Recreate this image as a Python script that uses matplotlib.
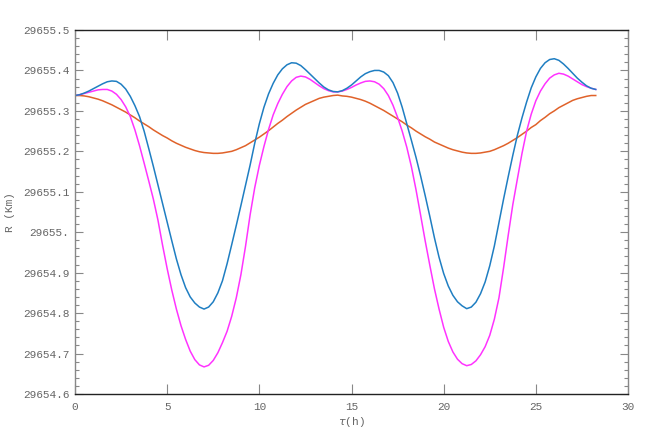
import matplotlib
matplotlib.use("Agg")
import matplotlib.pyplot as plt
from matplotlib.ticker import FixedLocator, FixedFormatter, MultipleLocator

# time samples (hours), every quarter hour
tau = [i * 0.25 for i in range(114)]

# R - 29654 (km), one value per sample above
r_blue = [
    1.338, 1.340, 1.344, 1.349, 1.355, 1.361, 1.367, 1.372, 1.374, 1.373,
    1.366, 1.354, 1.336, 1.313, 1.286, 1.250, 1.207, 1.163, 1.117, 1.071,
    1.025, 0.979, 0.934, 0.895, 0.863, 0.840, 0.825, 0.815, 0.810, 0.815,
    0.828, 0.850, 0.880, 0.922, 0.969, 1.017, 1.066, 1.116, 1.166, 1.220,
    1.268, 1.309, 1.342, 1.368, 1.389, 1.404, 1.414, 1.419, 1.418, 1.412,
    1.402, 1.391, 1.380, 1.369, 1.359, 1.352, 1.348, 1.347, 1.350, 1.356,
    1.364, 1.374, 1.384, 1.392, 1.397, 1.400, 1.400, 1.396, 1.387, 1.370,
    1.344, 1.309, 1.268, 1.227, 1.185, 1.139, 1.090, 1.039, 0.986, 0.938,
    0.898, 0.867, 0.844, 0.828, 0.818, 0.811, 0.815, 0.827, 0.848, 0.877,
    0.917, 0.966, 1.024, 1.082, 1.137, 1.190, 1.240, 1.283, 1.322, 1.357,
    1.384, 1.405, 1.419, 1.427, 1.429, 1.425, 1.416, 1.405, 1.393, 1.381,
    1.371, 1.362, 1.356, 1.353]

r_magenta = [
    1.338, 1.340, 1.343, 1.346, 1.349, 1.352, 1.353, 1.353, 1.349, 1.341,
    1.328, 1.310, 1.286, 1.253, 1.214, 1.171, 1.127, 1.082, 1.030, 0.968,
    0.910, 0.857, 0.810, 0.769, 0.735, 0.706, 0.685, 0.672, 0.667, 0.671,
    0.683, 0.702, 0.727, 0.755, 0.792, 0.838, 0.895, 0.965, 1.043, 1.110,
    1.165, 1.212, 1.254, 1.290, 1.318, 1.341, 1.360, 1.374, 1.383, 1.386,
    1.384, 1.378, 1.370, 1.362, 1.355, 1.350, 1.347, 1.347, 1.349, 1.353,
    1.358, 1.364, 1.369, 1.373, 1.374, 1.372, 1.366, 1.355, 1.338, 1.314,
    1.284, 1.250, 1.210, 1.162, 1.105, 1.042, 0.978, 0.918, 0.860, 0.810,
    0.765, 0.730, 0.704, 0.686, 0.675, 0.670, 0.673, 0.682, 0.697, 0.717,
    0.745, 0.785, 0.838, 0.912, 0.992, 1.068, 1.132, 1.195, 1.250, 1.292,
    1.325, 1.349, 1.367, 1.381, 1.389, 1.393, 1.391, 1.386, 1.379, 1.372,
    1.365, 1.360, 1.356, 1.353]

r_orange = [
    1.338, 1.338, 1.337, 1.335, 1.332, 1.329, 1.325, 1.320, 1.315, 1.309,
    1.303, 1.297, 1.290, 1.283, 1.275, 1.268, 1.261, 1.253, 1.246, 1.239,
    1.233, 1.226, 1.220, 1.215, 1.210, 1.206, 1.202, 1.199, 1.197, 1.196,
    1.195, 1.195, 1.196, 1.198, 1.200, 1.204, 1.209, 1.214, 1.221, 1.228,
    1.235, 1.243, 1.251, 1.260, 1.269, 1.277, 1.286, 1.294, 1.302, 1.309,
    1.316, 1.321, 1.326, 1.331, 1.334, 1.336, 1.338, 1.339, 1.337, 1.336,
    1.334, 1.331, 1.328, 1.324, 1.319, 1.313, 1.307, 1.301, 1.294, 1.287,
    1.280, 1.273, 1.265, 1.258, 1.250, 1.243, 1.236, 1.230, 1.223, 1.218,
    1.213, 1.208, 1.204, 1.201, 1.198, 1.196, 1.195, 1.195, 1.196, 1.198,
    1.200, 1.204, 1.209, 1.214, 1.220, 1.227, 1.234, 1.242, 1.250, 1.259,
    1.266, 1.276, 1.284, 1.293, 1.300, 1.308, 1.314, 1.320, 1.326, 1.330,
    1.333, 1.336, 1.338, 1.338]

base = 29654.0
yticks = [29654.6, 29654.7, 29654.8, 29654.9, 29655.0,
          29655.1, 29655.2, 29655.3, 29655.4, 29655.5]
ytick_labels = ["29654.6", "29654.7", "29654.8", "29654.9", "29655.",
                "29655.1", "29655.2", "29655.3", "29655.4", "29655.5"]
xticks = [0, 5, 10, 15, 20, 25, 30]
xtick_labels = ["0", "5", "10", "15", "20", "25", "30"]

mono = "Liberation Mono"
grey = "#666666"

fig = plt.figure(figsize=(6.54, 4.36), dpi=100)
ax = fig.add_axes([75 / 654, 42 / 436, 553 / 654, 364 / 436])

# draw the three curves
for vals, col in [(r_orange, "#e0622a"), (r_magenta, "#ff33ff"), (r_blue, "#1f7ec2")]:
    ax.plot(tau, [base + v for v in vals], color=col, lw=1.1, solid_joinstyle="round")

ax.set_xlim(0, 30)
ax.set_ylim(29654.6, 29655.5)

# ticks, mathematica style: inside, on all four sides
ax.xaxis.set_major_locator(FixedLocator(xticks))
ax.xaxis.set_major_formatter(FixedFormatter(xtick_labels))
ax.yaxis.set_major_locator(FixedLocator(yticks))
ax.yaxis.set_major_formatter(FixedFormatter(ytick_labels))
ax.yaxis.set_minor_locator(MultipleLocator(0.02))
ax.tick_params(axis="both", which="both", direction="in", top=True, right=True,
               color="#888888", width=0.8, labelcolor=grey, labelsize=8)
ax.tick_params(axis="x", which="major", length=7, pad=6)
ax.tick_params(axis="y", which="major", length=6, pad=4)
ax.tick_params(axis="y", which="minor", length=3)
for lab in ax.get_xticklabels() + ax.get_yticklabels():
    lab.set_fontfamily(mono)

ax.spines["top"].set_color("#222222")
ax.spines["bottom"].set_color("#222222")
ax.spines["left"].set_color("#888888")
ax.spines["right"].set_color("#888888")
for s in ax.spines.values():
    s.set_linewidth(1.0)

ax.set_xlabel(r"$\tau$(h)", family=mono, color=grey, fontsize=8, labelpad=2)
ax.set_ylabel("R (Km)", family=mono, color=grey, fontsize=8, labelpad=6)

fig.savefig("out.png", dpi=100)
